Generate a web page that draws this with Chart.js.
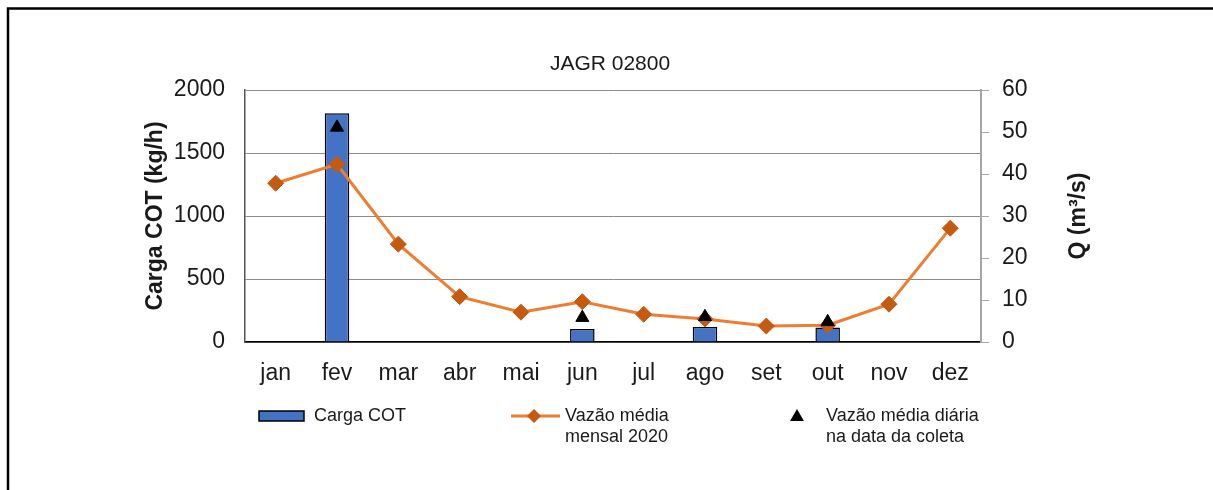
<!DOCTYPE html>
<html>
<head>
<meta charset="utf-8">
<script src="https://cdn.jsdelivr.net/npm/chart.js@4.4.1/dist/chart.umd.min.js"></script>
<style>
    body { margin: 0; background: #fff; }
    #wrap { width: 1213px; height: 490px; }
</style>
</head>
<body>
<div id="wrap"><canvas id="chart-cot" width="1213" height="490"></canvas></div>
<script>
var meses = ["jan", "fev", "mar", "abr", "mai", "jun", "jul", "ago", "set", "out", "nov", "dez"];
var cargaCOT = [null, 1815, null, null, null, 103, null, 120, null, 115, null, null];
var vazaoMensal = [37.8, 42.3, 23.3, 10.8, 7.1, 9.6, 6.6, 5.5, 3.8, 4.0, 9.0, 27.1];
var vazaoDiaria = [null, 51.1, null, null, null, 5.8, null, 6.0, null, 4.8, null, null];
var ticksCarga = [0, 500, 1000, 1500, 2000];
var ticksVazao = [0, 10, 20, 30, 40, 50, 60];

var fonte = '"Liberation Sans", Arial, sans-serif';
var corTexto = '#1a1a1a';
var tituloVazao = 'Q (m³/s)';

// moldura preta (esquerda e topo) + fundo branco
var moldura = {
    id: 'moldura',
    beforeDraw: function (chart) {
        var ctx = chart.ctx;
        ctx.save();
        ctx.fillStyle = '#fff';
        ctx.fillRect(0, 0, chart.width, chart.height);
        ctx.strokeStyle = '#000';
        ctx.lineWidth = 2.5;
        ctx.beginPath();
        ctx.moveTo(8, chart.height);
        ctx.lineTo(8, 8.5);
        ctx.lineTo(chart.width, 8.5);
        ctx.stroke();
        ctx.restore();
    }
};

// titulo do eixo direito lido de baixo pra cima (como no Excel)
var tituloDireito = {
    id: 'tituloDireito',
    afterDraw: function (chart) {
        var s = chart.scales.y1;
        var ctx = chart.ctx;
        ctx.save();
        ctx.translate(s.right - 14, (s.top + s.bottom) / 2);
        ctx.rotate(-Math.PI / 2);
        ctx.font = 'bold 23px ' + fonte;
        ctx.fillStyle = corTexto;
        ctx.textAlign = 'center';
        ctx.textBaseline = 'middle';
        ctx.fillText(tituloVazao, 0, 0);
        ctx.restore();
    }
};

// legenda desenhada a mao (rotulos em duas linhas)
var legenda = {
    id: 'legenda',
    afterDraw: function (chart) {
        var ctx = chart.ctx;
        var ds = chart.data.datasets;
        var y1 = 416, y2 = 437;
        ctx.save();
        ctx.font = '18px ' + fonte;
        ctx.textBaseline = 'middle';
        ctx.textAlign = 'left';

        // Carga COT
        ctx.fillStyle = ds[2].backgroundColor;
        ctx.fillRect(259, 411, 45, 10);
        ctx.strokeStyle = ds[2].borderColor;
        ctx.lineWidth = 1.5;
        ctx.strokeRect(259, 411, 45, 10);

        // Vazao media mensal
        ctx.strokeStyle = ds[1].borderColor;
        ctx.lineWidth = 3;
        ctx.beginPath();
        ctx.moveTo(511, y1);
        ctx.lineTo(560, y1);
        ctx.stroke();
        ctx.fillStyle = ds[1].pointBackgroundColor;
        ctx.strokeStyle = ds[1].pointBorderColor;
        Chart.helpers.drawPoint(ctx, {pointStyle: 'rectRot', radius: 5, rotation: 0, borderWidth: 1}, 534, y1);

        // Vazao media diaria
        ctx.fillStyle = ds[0].pointBackgroundColor;
        ctx.strokeStyle = ds[0].pointBorderColor;
        Chart.helpers.drawPoint(ctx, {pointStyle: 'triangle', radius: 5, rotation: 0, borderWidth: 1}, 797, y1 + 1);

        ctx.fillStyle = corTexto;
        var pos = [[2, 314], [1, 565], [0, 826]];
        pos.forEach(function (p) {
            var linhas = ds[p[0]].label.split('\n');
            linhas.forEach(function (t, i) {
                ctx.fillText(t, p[1], i === 0 ? y1 : y2);
            });
        });
        ctx.restore();
    }
};

var ctxCOT = document.getElementById("chart-cot").getContext('2d');

var ChartCOT = new Chart(ctxCOT, {
    type: 'bar',
    data: {
        labels: meses,
        datasets: [{
            type: 'line',
            label: 'Vazão média diária\nna data da coleta',
            data: vazaoDiaria,
            yAxisID: 'y1',
            showLine: false,
            pointStyle: 'triangle',
            pointRadius: 7.5,
            pointBackgroundColor: '#000',
            pointBorderColor: '#000',
            pointBorderWidth: 1,
            order: 0
        }, {
            type: 'line',
            label: 'Vazão média\nmensal 2020',
            data: vazaoMensal,
            yAxisID: 'y1',
            borderColor: '#ED7D31',
            borderWidth: 3,
            tension: 0,
            pointStyle: 'rectRot',
            pointRadius: 8,
            pointBackgroundColor: '#C55A11',
            pointBorderColor: '#C55A11',
            pointBorderWidth: 1,
            order: 1
        }, {
            type: 'bar',
            label: 'Carga COT',
            data: cargaCOT,
            yAxisID: 'y',
            backgroundColor: '#4472C4',
            borderColor: '#000',
            borderWidth: 1.5,
            barPercentage: 0.4,
            categoryPercentage: 1,
            order: 2
        }]
    },
    options: {
        responsive: false,
        animation: false,
        devicePixelRatio: 1,
        layout: {padding: {left: 127, right: 120, top: 0, bottom: 0}},
        plugins: {
            legend: {display: false},
            tooltip: {enabled: false},
            title: {
                display: true,
                text: 'JAGR 02800',
                color: corTexto,
                font: {family: fonte, size: 21, weight: 'normal'},
                padding: {top: 52, bottom: 12.8}
            }
        },
        scales: {
            x: {
                offset: true,
                grid: {display: false},
                border: {display: true, color: '#000', width: 1.5},
                ticks: {color: corTexto, font: {family: fonte, size: 23}, padding: 10},
                afterFit: function (s) { s.height = 148; s.paddingLeft = 0; s.paddingRight = 0; }
            },
            y: {
                position: 'left',
                min: 0,
                max: 2000,
                afterBuildTicks: function (s) { s.ticks = ticksCarga.map(function (v) { return {value: v}; }); },
                grid: {color: '#8c8c8c', lineWidth: 1, drawTicks: false},
                border: {color: '#555', width: 1.5},
                ticks: {
                    color: corTexto,
                    font: {family: fonte, size: 23},
                    padding: 20,
                    callback: function (v) { return String(v); }
                },
                title: {
                    display: true,
                    text: 'Carga COT (kg/h)',
                    color: corTexto,
                    font: {family: fonte, size: 23, weight: 'bold'},
                    padding: {top: 15, bottom: 0}
                },
                afterFit: function (s) { s.width = 118; s.paddingTop = 0; s.paddingBottom = 0; }
            },
            y1: {
                position: 'right',
                min: 0,
                max: 60,
                afterBuildTicks: function (s) { s.ticks = ticksVazao.map(function (v) { return {value: v}; }); },
                grid: {drawOnChartArea: false, drawTicks: true, tickLength: 8, color: '#a6a6a6'},
                border: {color: '#a6a6a6', width: 2},
                ticks: {
                    color: corTexto,
                    font: {family: fonte, size: 23},
                    padding: 13,
                    callback: function (v) { return String(v); }
                },
                title: {display: false},
                afterFit: function (s) { s.width = 112; s.paddingTop = 0; s.paddingBottom = 0; }
            }
        }
    },
    plugins: [moldura, tituloDireito, legenda]
});
</script>
</body>
</html>
